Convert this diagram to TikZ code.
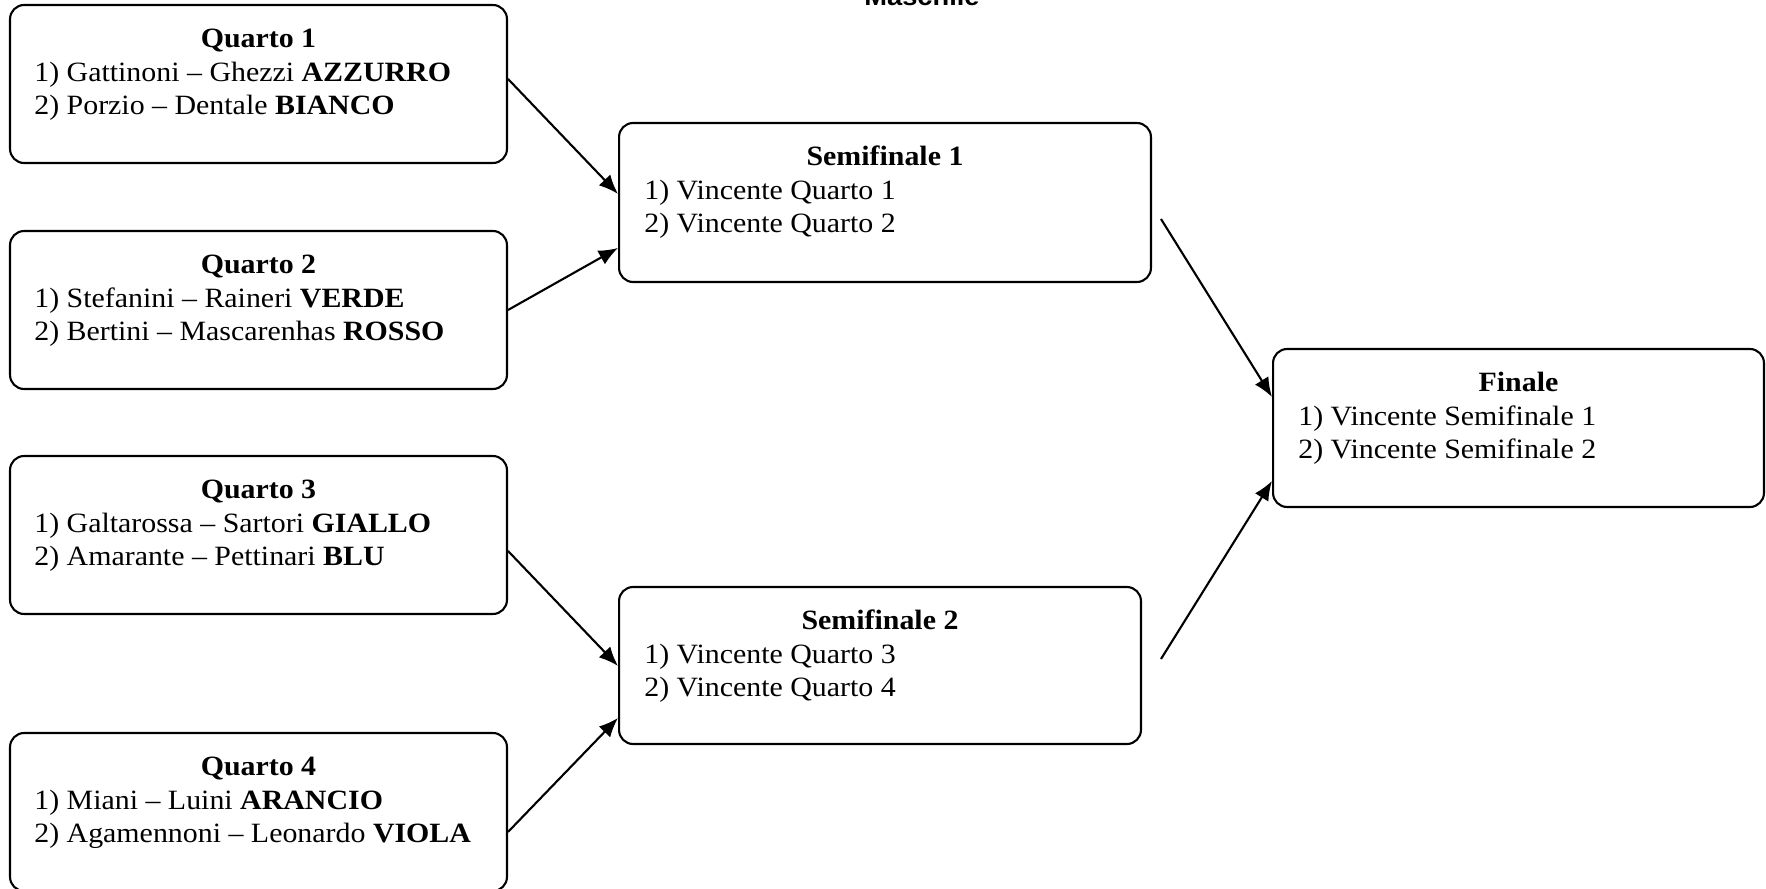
\documentclass[tikz,border=0pt]{standalone}
\usepackage{fontspec}
\setmainfont[FakeStretch=1.07]{Liberation Serif}
\newfontfamily\intestfont[FakeStretch=1.07]{Liberation Sans}
\usetikzlibrary{arrows.meta,positioning,calc}

\tikzset{
    box/.style={draw, rounded corners=0.28cm, line width=1.2pt, inner sep=0pt},
    quarto/.style={box, minimum width=9.94cm, minimum height=3.16cm},
    titolo/.style={anchor=base, inner sep=0pt, font=\fontsize{15.9}{18.8}\selectfont\bfseries},
    riga/.style={anchor=base west, inner sep=0pt, font=\fontsize{15.9}{18.8}\selectfont},
    freccia/.style={-{Latex[length=11pt, width=9pt]}, line width=1.2pt},
}

\begin{document}
\begin{tikzpicture}[x=0.02cm, y=-0.02cm]
    \useasboundingbox (0,0) rectangle (1766,889);

    % Intestazione (tagliata in alto)
    \node[anchor=base, inner sep=0pt, font=\intestfont\fontsize{14.5}{16}\selectfont\bfseries] (intest) at (922,6) {Maschile};

    % Quarti di finale
    \node[quarto] (Q1) at (258.5,84) {};
    \node[titolo] (Q1t) at ($(Q1.north)+(0,44)$) {Quarto 1};
    \node[riga] (Q1a) at ($(Q1.north west)+(25,78)$) {1) Gattinoni – Ghezzi \textbf{AZZURRO}};
    \node[riga] (Q1b) at ($(Q1.north west)+(25,111)$) {2) Porzio – Dentale \textbf{BIANCO}};

    \node[quarto] (Q2) at (258.5,310) {};
    \node[titolo] (Q2t) at ($(Q2.north)+(0,44)$) {Quarto 2};
    \node[riga] (Q2a) at ($(Q2.north west)+(25,78)$) {1) Stefanini – Raineri \textbf{VERDE}};
    \node[riga] (Q2b) at ($(Q2.north west)+(25,111)$) {2) Bertini – Mascarenhas \textbf{ROSSO}};

    \node[quarto] (Q3) at (258.5,535) {};
    \node[titolo] (Q3t) at ($(Q3.north)+(0,44)$) {Quarto 3};
    \node[riga] (Q3a) at ($(Q3.north west)+(25,78)$) {1) Galtarossa – Sartori \textbf{GIALLO}};
    \node[riga] (Q3b) at ($(Q3.north west)+(25,111)$) {2) Amarante – Pettinari \textbf{BLU}};

    \node[quarto] (Q4) at (258.5,812) {};
    \node[titolo] (Q4t) at ($(Q4.north)+(0,44)$) {Quarto 4};
    \node[riga] (Q4a) at ($(Q4.north west)+(25,78)$) {1) Miani – Luini \textbf{ARANCIO}};
    \node[riga] (Q4b) at ($(Q4.north west)+(25,111)$) {2) Agamennoni – Leonardo \textbf{VIOLA}};

    % Semifinali
    \node[box, minimum width=10.64cm, minimum height=3.18cm] (S1) at (885,202.5) {};
    \node[titolo] (S1t) at ($(S1.north)+(0,44)$) {Semifinale 1};
    \node[riga] (S1a) at ($(S1.north west)+(26,78)$) {1) Vincente Quarto 1};
    \node[riga] (S1b) at ($(S1.north west)+(26,111)$) {2) Vincente Quarto 2};

    \node[box, minimum width=10.44cm, minimum height=3.14cm] (S2) at (880,665.5) {};
    \node[titolo] (S2t) at ($(S2.north)+(0,44)$) {Semifinale 2};
    \node[riga] (S2a) at ($(S2.north west)+(26,78)$) {1) Vincente Quarto 3};
    \node[riga] (S2b) at ($(S2.north west)+(26,111)$) {2) Vincente Quarto 4};

    % Finale
    \node[box, minimum width=9.82cm, minimum height=3.16cm] (F) at (1518.5,428) {};
    \node[titolo] (Ft) at ($(F.north)+(0,44)$) {Finale};
    \node[riga] (Fa) at ($(F.north west)+(26,78)$) {1) Vincente Semifinale 1};
    \node[riga] (Fb) at ($(F.north west)+(26,111)$) {2) Vincente Semifinale 2};

    % Frecce
    \draw[freccia] ($(Q1.north east)+(0,75)$) -- ($(S1.north west)+(0,72)$);
    \draw[freccia] (Q2.east) -- ($(S1.north west)+(0,126)$);
    \draw[freccia] ($(Q3.north east)+(0,96)$) -- ($(S2.north west)+(0,80)$);
    \draw[freccia] ($(Q4.north east)+(0,100)$) -- ($(S2.north west)+(0,132)$);

    \coordinate (S1out) at (1161,219);
    \coordinate (S2out) at (1161,659);
    \draw[freccia] (S1out) -- ($(F.north west)+(0,49)$);
    \draw[freccia] (S2out) -- ($(F.north west)+(0,133)$);
\end{tikzpicture}
\end{document}
